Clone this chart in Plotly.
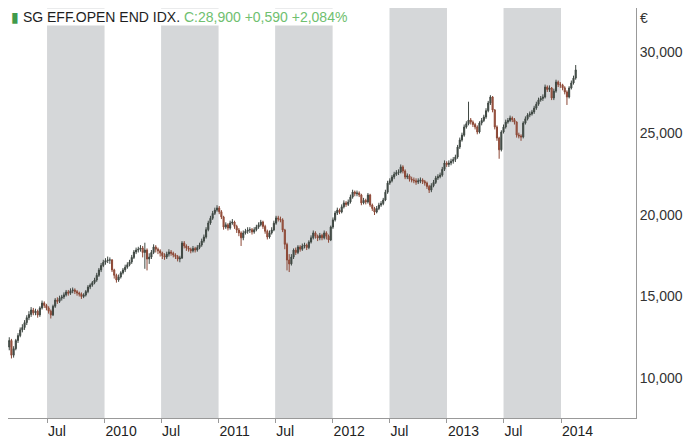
import pandas as pd
import plotly.graph_objects as go

# Weekly candles, first week starting 2009-03-02
start_date = "2009-03-02"

opens = [
    11900, 12300, 11400, 11800, 12300, 12600, 12950, 13100, 13400, 13700,
    13900, 14170, 14000, 14100, 13870, 14300, 14600, 14450, 14300, 14100,
    13870, 14400, 14780, 14700, 14900, 14970, 15100, 15280, 15200, 15350,
    15400, 15300, 15215, 15150, 15000, 15090, 15300, 15580, 15700, 15850,
    16010, 16300, 16630, 16900, 17100, 17200, 17240, 17240, 16630, 16300,
    16010, 16200, 16450, 16630, 16800, 16950, 17120, 17400, 17730, 17850,
    17900, 17975, 17700, 17850, 17300, 17420, 17700, 18040, 17900, 17800,
    17670, 17500, 17420, 17600, 17730, 17650, 17550, 17450, 17300, 17360,
    18280, 18100, 17975, 17900, 17800, 17950, 17850, 18000, 18160, 18400,
    18650, 19100, 19510, 19800, 20100, 20300, 20430, 20200, 19880, 19260,
    19400, 19200, 19510, 19570, 19300, 19080, 18900, 18600, 18900, 19000,
    19080, 19100, 18960, 19100, 19260, 19400, 19570, 19300, 19000, 18650,
    18900, 19080, 19500, 19820, 19750, 19700, 19080, 18200, 17240, 17000,
    17420, 17850, 17700, 18040, 17900, 18100, 18160, 18000, 18340, 18600,
    18900, 18700, 18590, 18750, 18600, 18900, 18700, 18470, 19260, 19700,
    20120, 20300, 20180, 20500, 20740, 20650, 20800, 21100, 21410, 21300,
    21350, 21230, 20740, 20900, 20800, 21230, 20610, 20400, 20180, 20400,
    20610, 20700, 20920, 21400, 21960, 22100, 22330, 22500, 22600, 22640,
    22950, 22700, 22330, 22400, 22200, 22150, 22100, 22020, 22100, 22150,
    22050, 21960, 21750, 21530, 21800, 22000, 22270, 22350, 22450, 22800,
    23190, 23100, 23190, 23300, 23400, 23560, 24170, 24600, 24900, 25400,
    25600, 25830, 25700, 25550, 25400, 25090, 25640, 25800, 26010, 26400,
    26870, 27240, 26440, 25400, 24720, 24000, 25090, 25400, 25700, 25800,
    25950, 25850, 25700, 24910, 24850, 24790, 25640, 25900, 26130, 26200,
    26320, 26560, 26800, 27060, 27150, 27240, 27850, 27700, 27790, 27180,
    27600, 28160, 28000, 27980, 27800, 27550, 27240, 27790, 28100, 28400,
]

closes = [
    12300, 11400, 11800, 12300, 12600, 12950, 13100, 13400, 13700, 13900,
    14170, 14000, 14100, 13870, 14300, 14600, 14450, 14300, 14100, 13870,
    14400, 14780, 14700, 14900, 14970, 15100, 15280, 15200, 15350, 15400,
    15300, 15215, 15150, 15000, 15090, 15300, 15580, 15700, 15850, 16010,
    16300, 16630, 16900, 17100, 17200, 17240, 17240, 16630, 16300, 16010,
    16200, 16450, 16630, 16800, 16950, 17120, 17400, 17730, 17850, 17900,
    17975, 17700, 17850, 17300, 17420, 17700, 18040, 17900, 17800, 17670,
    17500, 17420, 17600, 17730, 17650, 17550, 17450, 17300, 17360, 18280,
    18100, 17975, 17900, 17800, 17950, 17850, 18000, 18160, 18400, 18650,
    19100, 19510, 19800, 20100, 20300, 20430, 20200, 19880, 19260, 19400,
    19200, 19510, 19570, 19300, 19080, 18900, 18600, 18900, 19000, 19080,
    19100, 18960, 19100, 19260, 19400, 19570, 19300, 19000, 18650, 18900,
    19080, 19500, 19820, 19750, 19700, 19080, 18200, 17240, 17000, 17420,
    17850, 17700, 18040, 17900, 18100, 18160, 18000, 18340, 18600, 18900,
    18700, 18590, 18750, 18600, 18900, 18700, 18470, 19260, 19700, 20120,
    20300, 20180, 20500, 20740, 20650, 20800, 21100, 21410, 21300, 21350,
    21230, 20740, 20900, 20800, 21230, 20610, 20400, 20180, 20400, 20610,
    20700, 20920, 21400, 21960, 22100, 22330, 22500, 22600, 22640, 22950,
    22700, 22330, 22400, 22200, 22150, 22100, 22020, 22100, 22150, 22050,
    21960, 21750, 21530, 21800, 22000, 22270, 22350, 22450, 22800, 23190,
    23100, 23190, 23300, 23400, 23560, 24170, 24600, 24900, 25400, 25600,
    25830, 25700, 25550, 25400, 25090, 25640, 25800, 26010, 26400, 26870,
    27240, 26440, 25400, 24720, 24000, 25090, 25400, 25700, 25800, 25950,
    25850, 25700, 24910, 24850, 24790, 25640, 25900, 26130, 26200, 26320,
    26560, 26800, 27060, 27150, 27240, 27850, 27700, 27790, 27180, 27600,
    28160, 28000, 27980, 27800, 27550, 27240, 27790, 28100, 28400, 28900,
]

highs = [
    12500, 12400, 11950, 12400, 12750, 13100, 13300, 13550, 13850, 14100,
    14350, 14300, 14250, 14200, 14400, 14750, 14700, 14550, 14400, 14200,
    14500, 14900, 14950, 15050, 15100, 15250, 15400, 15400, 15500, 15550,
    15500, 15400, 15300, 15250, 15200, 15400, 15700, 15800, 15950, 16150,
    16450, 16750, 17050, 17250, 17350, 17450, 17400, 17300, 16700, 16400,
    16350, 16550, 16750, 16950, 17100, 17250, 17550, 17850, 18000, 18050,
    18150, 18100, 18300, 17950, 17650, 17850, 18200, 18150, 18000, 17900,
    17750, 17650, 17750, 17900, 17850, 17750, 17650, 17550, 17500, 18400,
    18400, 18200, 18100, 18000, 18100, 18050, 18150, 18300, 18550, 18800,
    19250, 19650, 19950, 20250, 20450, 20600, 20550, 20300, 19950, 19550,
    19500, 19650, 19750, 19650, 19400, 19200, 19000, 19050, 19150, 19250,
    19250, 19200, 19250, 19400, 19550, 19700, 19650, 19400, 19100, 19050,
    19250, 19650, 19950, 19950, 19900, 19800, 19150, 18300, 17600, 17600,
    17950, 18000, 18150, 18150, 18250, 18300, 18250, 18450, 18750, 19050,
    19000, 18800, 18900, 18850, 19050, 19000, 18800, 19350, 19850, 20250,
    20450, 20400, 20650, 20900, 20850, 20950, 21250, 21550, 21500, 21500,
    21450, 21300, 21050, 21000, 21350, 21300, 20700, 20500, 20550, 20750,
    20850, 21050, 21550, 22100, 22250, 22450, 22650, 22750, 22800, 23100,
    23050, 22800, 22550, 22500, 22350, 22300, 22250, 22250, 22300, 22250,
    22150, 22050, 21850, 21950, 22150, 22400, 22500, 22600, 22950, 23350,
    23300, 23350, 23450, 23550, 23700, 24300, 24750, 25050, 25550, 25750,
    26950, 25950, 25800, 25650, 25500, 25750, 25950, 26150, 26550, 27000,
    27350, 27300, 26500, 25500, 24800, 25200, 25550, 25850, 25950, 26100,
    26050, 25950, 25750, 25050, 24950, 25750, 26050, 26250, 26350, 26450,
    26700, 26950, 27200, 27300, 27400, 28000, 27950, 27950, 27850, 27750,
    28300, 28250, 28150, 28050, 27900, 27650, 27900, 28250, 28550, 29200,
]

lows = [
    11700, 11200, 11250, 11700, 12150, 12500, 12800, 12950, 13250, 13550,
    13750, 13850, 13850, 13700, 13750, 14200, 14300, 14150, 13950, 13650,
    13800, 14300, 14550, 14600, 14750, 14850, 15000, 15050, 15100, 15200,
    15150, 15050, 15000, 14850, 14900, 15000, 15200, 15450, 15600, 15750,
    15900, 16200, 16500, 16800, 16950, 17050, 17000, 16500, 16100, 15850,
    15900, 16100, 16350, 16500, 16700, 16850, 17000, 17300, 17600, 17700,
    17750, 17400, 16700, 16600, 17000, 17300, 17600, 17700, 17600, 17450,
    17300, 17250, 17300, 17450, 17500, 17400, 17300, 17150, 17100, 17300,
    17950, 17800, 17750, 17650, 17700, 17700, 17750, 17900, 18050, 18300,
    18550, 19000, 19400, 19700, 20000, 20200, 20050, 19750, 19100, 19150,
    19050, 19100, 19400, 19150, 18900, 18700, 18100, 18450, 18800, 18850,
    18900, 18800, 18850, 19000, 19150, 19300, 19150, 18850, 18500, 18550,
    18800, 19000, 19400, 19600, 19550, 18950, 17900, 16600, 16500, 16900,
    17300, 17550, 17600, 17750, 17800, 17950, 17850, 17900, 18250, 18500,
    18550, 18400, 18450, 18450, 18500, 18500, 18300, 18400, 19150, 19600,
    20000, 20050, 20100, 20400, 20500, 20550, 20700, 21000, 21150, 21150,
    21100, 20600, 20650, 20650, 20700, 20500, 20250, 20000, 20100, 20300,
    20500, 20600, 20850, 21300, 21850, 22000, 22200, 22400, 22450, 22550,
    22550, 22200, 22200, 22050, 22000, 21950, 21850, 21900, 21950, 21900,
    21800, 21600, 21350, 21400, 21700, 21900, 22150, 22250, 22350, 22700,
    22950, 22950, 23050, 23150, 23250, 23450, 24050, 24500, 24800, 25300,
    25500, 25550, 25400, 25250, 24950, 25000, 25500, 25700, 25900, 26300,
    26750, 26300, 25250, 24550, 23450, 23900, 25000, 25300, 25600, 25700,
    25700, 25550, 24750, 24700, 24550, 24700, 25550, 25800, 26000, 26100,
    26200, 26450, 26700, 26950, 27000, 27150, 27550, 27550, 27050, 27050,
    27500, 27850, 27800, 27650, 27400, 26750, 27150, 27700, 28000, 28300,
]

# Shaded half-years (Jul -> Jan)
band_starts = ["2009-07-01", "2010-07-01", "2011-07-01", "2012-07-01", "2013-07-01"]
band_ends = ["2010-01-01", "2011-01-01", "2012-01-01", "2013-01-01", "2014-01-01"]

x_tick_vals = ["2009-07-01", "2010-01-01", "2010-07-01", "2011-01-01", "2011-07-01",
               "2012-01-01", "2012-07-01", "2013-01-01", "2013-07-01", "2014-01-01"]
x_tick_text = ["Jul", "2010", "Jul", "2011", "Jul", "2012", "Jul", "2013", "Jul", "2014"]

y_tick_vals = [10000, 15000, 20000, 25000, 30000]
y_tick_text = ["10,000", "15,000", "20,000", "25,000", "30,000"]

title_name = "SG EFF.OPEN END IDX."
title_quote = "C:28,900 +0,590 +2,084%"

dates = pd.date_range(start=start_date, periods=len(closes), freq="7D")

UP = "#3f4843"
DOWN_LINE = "#8c4836"
DOWN_FILL = "#b0604a"
BAND = "#d5d7d9"
FONT = "Liberation Sans, Arial, sans-serif"

fig = go.Figure()
fig.add_trace(go.Candlestick(
    x=dates, open=opens, high=highs, low=lows, close=closes,
    increasing=dict(line=dict(color=UP, width=1), fillcolor=UP),
    decreasing=dict(line=dict(color=DOWN_LINE, width=1), fillcolor=DOWN_FILL),
    whiskerwidth=0,
    showlegend=False,
))

for s, e in zip(band_starts, band_ends):
    fig.add_shape(type="rect", xref="x", yref="paper", x0=s, x1=e, y0=0, y1=1,
                  fillcolor=BAND, line=dict(width=0), layer="below")

fig.add_annotation(
    xref="paper", yref="paper", x=0.0, y=1.0, xanchor="left", yanchor="top",
    xshift=2,
    text=(f'<span style="color:#3f9a4c">▮</span> {title_name} '
          f'<span style="color:#6fc06f">{title_quote}</span>'),
    showarrow=False, font=dict(family=FONT, size=14, color="#1e1e1e"),
    bgcolor="white", borderpad=0,
)
fig.add_annotation(
    xref="paper", yref="paper", x=1.0, y=1.0, xanchor="left", yanchor="top",
    xshift=2,
    text="€", showarrow=False, font=dict(family=FONT, size=14, color="#333"),
)

# page body adds an 8px offset; sizes account for it
fig.update_layout(
    width=689, height=437,
    margin=dict(l=0, r=61, t=0, b=27),
    paper_bgcolor="white", plot_bgcolor="white",
    font=dict(family=FONT, size=14, color="#333"),
    xaxis=dict(
        type="date", range=["2009-02-26", "2014-08-29"],
        rangeslider=dict(visible=False),
        tickvals=x_tick_vals, ticktext=x_tick_text,
        ticklabelposition="outside right",
        ticks="outside", ticklen=4, tickcolor="#999",
        showline=True, linecolor="#999", linewidth=1,
        showgrid=False, zeroline=False,
        tickfont=dict(family=FONT, size=14, color="#222"),
    ),
    yaxis=dict(
        side="right", range=[7546, 32699],
        tickvals=y_tick_vals, ticktext=y_tick_text,
        ticks="", showline=True, linecolor="#999", linewidth=1,
        showgrid=False, zeroline=False,
        tickfont=dict(family=FONT, size=14, color="#333"),
    ),
)

fig.write_html("out.html")
